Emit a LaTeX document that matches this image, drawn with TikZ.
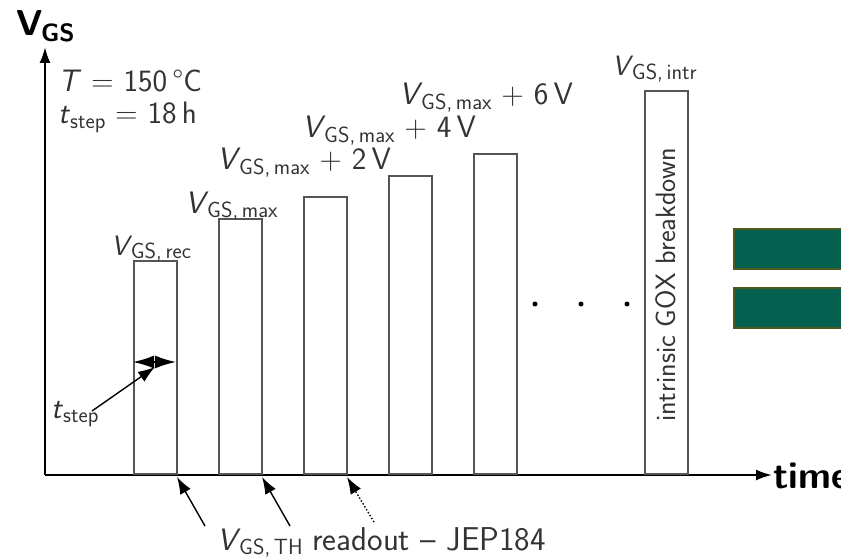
\documentclass[tikz,border=0pt]{standalone}
\usetikzlibrary{arrows.meta}
\definecolor{txtgray}{HTML}{333333}
\definecolor{bargray}{HTML}{555555}
\definecolor{gfill}{HTML}{04604F}
\definecolor{gline}{HTML}{4B5A1E}
\newcommand\Vs[1]{\textit{V}\kern-1.5pt\raisebox{-0.3ex}{\fontsize{22}{22}\selectfont #1}}
\tikzset{
  lbl/.style={text=txtgray, font=\sffamily\fontsize{31}{32}\selectfont, inner sep=0pt, anchor=base west},
  bar/.style={draw=bargray, line width=1.8pt, minimum width=43pt, anchor=south west, inner sep=0pt},
  ptr/.style={-{Latex[length=17pt,width=12pt]}, line width=1.4pt},
  gbox/.style={fill=gfill, draw=gline, line width=1.5pt, minimum width=110pt, minimum height=40pt, anchor=north west, inner sep=0pt},
  dotm/.style={circle, fill=black, inner sep=0pt, minimum size=5pt},
}
\begin{document}
\begin{tikzpicture}[x=1pt,y=-1pt]
\useasboundingbox (0,0) rectangle (841,559);
% axes
\coordinate (O) at (45,475);
\coordinate (ytip) at (45,47);
\coordinate (xtip) at (772,475);
\draw[line width=2.2pt, -{Latex[length=16pt,width=11pt]}] (O) -- (ytip);
\draw[line width=2.2pt, -{Latex[length=16pt,width=11pt]}] (O) -- (xtip);
\node[inner sep=0pt, anchor=base west, font=\sffamily\bfseries] (ylab) at (16,36)
  {\fontsize{36}{36}\selectfont V\kern-1.5pt\raisebox{-0.35ex}{\fontsize{25}{25}\selectfont GS}};
\node[inner sep=0pt, anchor=base west, font=\sffamily\bfseries\fontsize{38}{38}\selectfont] (xlab) at (773,488) {time};
% parameters
\node[lbl] (T) at (58,92) {\textit{T} = 150\,\textdegree C};
\node[lbl] (ts) at (58,124) {\textit{t}\raisebox{-0.3ex}{\fontsize{22}{22}\selectfont step} = 18\,h};
% bars
\node[bar, minimum height=213pt] (b1) at (133,475) {};
\node[bar, minimum height=255pt] (b2) at (218,475) {};
\node[bar, minimum height=277pt] (b3) at (303,475) {};
\node[bar, minimum height=298pt] (b4) at (388,475) {};
\node[bar, minimum height=320pt] (b5) at (473,475) {};
\node[bar, minimum height=383pt] (b6) at (644,475) {};
\node[text=txtgray, font=\sffamily\fontsize{28}{28}\selectfont, rotate=90, inner sep=0pt] (gox) at (665.5,285) {intrinsic GOX breakdown};
% bar labels
\node[lbl, font=\sffamily\fontsize{28}{28}\selectfont] (l1) at (111,255) {\Vs{GS,\,rec}};
\node[lbl] (l2) at (185,213) {\Vs{GS,\,max}};
\node[lbl] (l3) at (217,170) {\Vs{GS,\,max} + 2\,V};
\node[lbl] (l4) at (302,138) {\Vs{GS,\,max} + 4\,V};
\node[lbl] (l5) at (399,105) {\Vs{GS,\,max} + 6\,V};
\node[lbl, font=\sffamily\fontsize{28}{28}\selectfont] (l6) at (612,76) {\Vs{GS,\,intr}};
% dots
\node[dotm] (d1) at (535,304) {};
\node[dotm] (d2) at (581,304) {};
\node[dotm] (d3) at (627,304) {};
% green boxes
\node[gbox] (g1) at (733,228) {};
\node[gbox] (g2) at (733,287) {};
% t_step dimension
\coordinate (dl) at (133,362);
\coordinate (dr) at (176,362);
\coordinate (dm) at (155,367);
\draw[line width=1.6pt, {Latex[length=21pt,width=13pt]}-{Latex[length=21pt,width=13pt]}] (dl) -- (dr);
\node[lbl] (tl) at (51,418) {\textit{t}\raisebox{-0.3ex}{\fontsize{22}{22}\selectfont step}};
\coordinate (ts0) at (92,411);
\draw[ptr] (ts0) -- (dm);
% readout arrows
\node[lbl] (ro) at (217,550) {\Vs{GS,\,TH} {\fontsize{33}{33}\selectfont readout -- JEP184}};
\coordinate (r1) at (205,526);
\coordinate (r2) at (290,526);
\coordinate (r3) at (374,522);
\coordinate (t1) at (177,477);
\coordinate (t2) at (262,477);
\coordinate (t3) at (347,477);
\draw[ptr] (r1) -- (t1);
\draw[ptr] (r2) -- (t2);
\draw[ptr, dotted] (r3) -- (t3);
\end{tikzpicture}
\end{document}
